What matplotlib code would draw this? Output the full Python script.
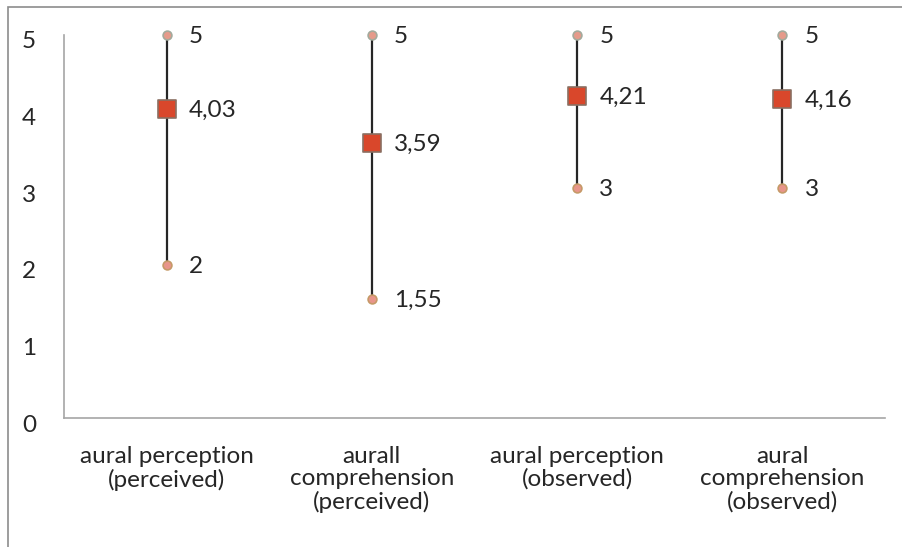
import matplotlib.pyplot as plt
from matplotlib.patches import Rectangle
from matplotlib.transforms import ScaledTranslation

plt.rcParams['font.family'] = ['Lato', 'DejaVu Sans']

categories = ['aural perception\n(perceived)', 'aurall\ncomprehension\n(perceived)',
              'aural perception\n(observed)', 'aural\ncomprehension\n(observed)']
high = [5, 5, 5, 5]
low = [2, 1.55, 3, 3]
mean = [4.03, 3.59, 4.21, 4.16]
high_lbl = ['5', '5', '5', '5']
low_lbl = ['2', '1,55', '3', '3']
mean_lbl = ['4,03', '3,59', '4,21', '4,16']

fig = plt.figure(figsize=(9.03, 5.47), dpi=100)
ax = fig.add_axes([64/903, 1-418/547, (885-64)/903, (418-35)/547])

# frame around chart area (right/bottom cut off)
fig.patches.append(Rectangle((8/903, -0.1), 1.2, 1 - 7/547 + 0.1, transform=fig.transFigure,
                             fill=False, edgecolor='#8c8c8c', linewidth=1.2))

x = list(range(len(categories)))
for i in x:
    ax.plot([i, i], [low[i], high[i]], color='#262626', linewidth=1.6, zorder=1, clip_on=False)

ax.scatter(x, high, s=40, color='#e59a8a', edgecolors='#a3aa9c', linewidths=1.2, zorder=3, clip_on=False)
ax.scatter(x, low, s=40, color='#e8958a', edgecolors='#c59a68', linewidths=1.2, zorder=3, clip_on=False)
ax.scatter(x, mean, s=150, marker='s', color='#d9472b', edgecolors='#8a6f62', linewidths=1.2,
           zorder=4, clip_on=False)

fs = 17.5
for i in x:
    ax.annotate(high_lbl[i], (i, high[i]), xytext=(16, -1), textcoords='offset points',
                va='center', ha='left', fontsize=fs, color='#262626')
    ax.annotate(low_lbl[i], (i, low[i]), xytext=(16, -1), textcoords='offset points',
                va='center', ha='left', fontsize=fs, color='#262626')
    ax.annotate(mean_lbl[i], (i, mean[i]), xytext=(16, -1), textcoords='offset points',
                va='center', ha='left', fontsize=fs, color='#262626')

ax.set_xlim(-0.5, 3.5)
ax.set_ylim(0, 5)
ax.set_yticks([0, 1, 2, 3, 4, 5])
ax.set_xticks(x)
ax.set_xticklabels(categories, fontsize=fs, color='#262626', linespacing=1.1)
ax.tick_params(axis='both', length=0)
ax.tick_params(axis='y', pad=20, labelsize=fs, labelcolor='#262626')
ax.tick_params(axis='x', pad=20)

shift = ScaledTranslation(0, -0.05, fig.dpi_scale_trans)
for lbl in ax.get_yticklabels():
    lbl.set_transform(lbl.get_transform() + shift)

for s in ['top', 'right']:
    ax.spines[s].set_visible(False)
for s in ['left', 'bottom']:
    ax.spines[s].set_color('#a6a6a6')
    ax.spines[s].set_linewidth(1.2)

fig.savefig('out.png', dpi=100)
